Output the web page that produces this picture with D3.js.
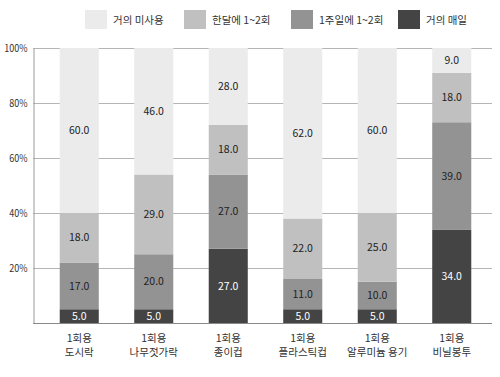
<!DOCTYPE html>
<html>
<head>
<meta charset="utf-8">
<script src="https://cdn.jsdelivr.net/npm/d3@7"></script>
<style>
  body { margin: 0; background: #fff; }
  text { font-family: "Noto Sans CJK KR", "Noto Sans", sans-serif; }
</style>
</head>
<body>
<svg id="svg" width="500" height="377"></svg>
<script>
const categories = [
  ['1회용', '도시락'],
  ['1회용', '나무젓가락'],
  ['1회용', '종이컵'],
  ['1회용', '플라스틱컵'],
  ['1회용', '알루미늄 용기'],
  ['1회용', '비닐봉투']
]
const seriesNames = ['거의 매일', '1주일에 1~2회', '한달에 1~2회', '거의 미사용']
const daily = [5, 5, 27, 5, 5, 34]
const weekly = [17, 20, 27, 11, 10, 39]
const monthly = [18, 29, 18, 22, 25, 18]
const rarely = [60, 46, 28, 62, 60, 9]
const yTicks = [20, 40, 60, 80, 100]

const colors = ['#444444', '#939393', '#c0c0c0', '#ebebeb']
const textColors = ['#fff', '#222', '#222', '#222']
const legendOrder = [3, 2, 1, 0]

const rows = categories.map((c, i) => ({
  key: i, daily: daily[i], weekly: weekly[i], monthly: monthly[i], rarely: rarely[i]
}))
const keys = ['daily', 'weekly', 'monthly', 'rarely']
const stacked = d3.stack().keys(keys)(rows)

const svg = d3.select('#svg')

const x = d3.scaleBand()
  .domain(rows.map(d => d.key))
  .range([42, 489])
  .paddingInner(0.476)
  .paddingOuter(0.238)

const y = d3.scaleLinear()
  .domain([0, 100])
  .range([323, 48])

// grid
svg.append('g')
  .selectAll('line')
  .data(yTicks)
  .enter()
  .append('line')
  .attr('x1', 33)
  .attr('x2', 492)
  .attr('y1', d => y(d) + 0.5)
  .attr('y2', d => y(d) + 0.5)
  .attr('stroke', '#b5b5b5')
  .attr('stroke-width', 1)

// left axis
const leftAxis = d3.axisLeft(y)
  .tickValues(yTicks)
  .tickSize(0)
  .tickPadding(6)
  .tickFormat(d => d + '%')
const yg = svg.append('g')
  .attr('transform', 'translate(33.5, 0)')
  .call(leftAxis)
yg.select('.domain').attr('stroke', '#9a9a9a')
yg.selectAll('text')
  .attr('font-size', 10)
  .attr('fill', '#333')
  .attr('font-family', '"Noto Sans CJK KR", sans-serif')
  .attr('transform', 'scale(0.9,1)')
  .attr('x', -6 / 0.9)

// bars
const layers = svg.append('g')
  .selectAll('g')
  .data(stacked)
  .enter()
  .append('g')
  .attr('fill', (d, i) => colors[i])

layers.selectAll('rect')
  .data(d => d)
  .enter()
  .append('rect')
  .attr('x', d => x(d.data.key))
  .attr('y', d => y(d[1]))
  .attr('width', x.bandwidth())
  .attr('height', d => y(d[0]) - y(d[1]))

// value labels
stacked.forEach((s, i) => {
  svg.append('g')
    .selectAll('text')
    .data(s)
    .enter()
    .append('text')
    .attr('x', d => x(d.data.key) + x.bandwidth() / 2)
    .attr('y', d => (y(d[0]) + y(d[1])) / 2)
    .attr('dy', '0.35em')
    .attr('text-anchor', 'middle')
    .attr('font-size', 10.5)
    .attr('fill', textColors[i])
    .text(d => (d[1] - d[0]).toFixed(1))
})

// bottom axis line
svg.append('line')
  .attr('x1', 33)
  .attr('x2', 492)
  .attr('y1', 323.5)
  .attr('y2', 323.5)
  .attr('stroke', '#8a8a8a')
  .attr('stroke-width', 1.2)

// category labels
const catG = svg.append('g')
  .selectAll('text')
  .data(rows)
  .enter()
  .append('text')
  .attr('text-anchor', 'middle')
  .attr('font-size', 10.5)
  .attr('fill', '#333')
  .attr('x', d => x(d.key) + x.bandwidth() / 2)
  .attr('y', 342)
catG.append('tspan')
  .attr('x', d => x(d.key) + x.bandwidth() / 2)
  .text(d => categories[d.key][0])
catG.append('tspan')
  .attr('x', d => x(d.key) + x.bandwidth() / 2)
  .attr('dy', 14)
  .text(d => categories[d.key][1])

// legend
const legendX = [85, 184, 291, 398]
const legend = svg.append('g')
  .selectAll('g')
  .data(legendOrder)
  .enter()
  .append('g')
  .attr('transform', (d, i) => `translate(${legendX[i]}, 10)`)
legend.append('rect')
  .attr('width', 22)
  .attr('height', 19)
  .attr('fill', d => colors[d])
legend.append('text')
  .attr('x', 28)
  .attr('y', 10)
  .attr('dy', '0.35em')
  .attr('font-size', 10.5)
  .attr('fill', '#333')
  .text(d => seriesNames[d])
</script>
</body>
</html>
